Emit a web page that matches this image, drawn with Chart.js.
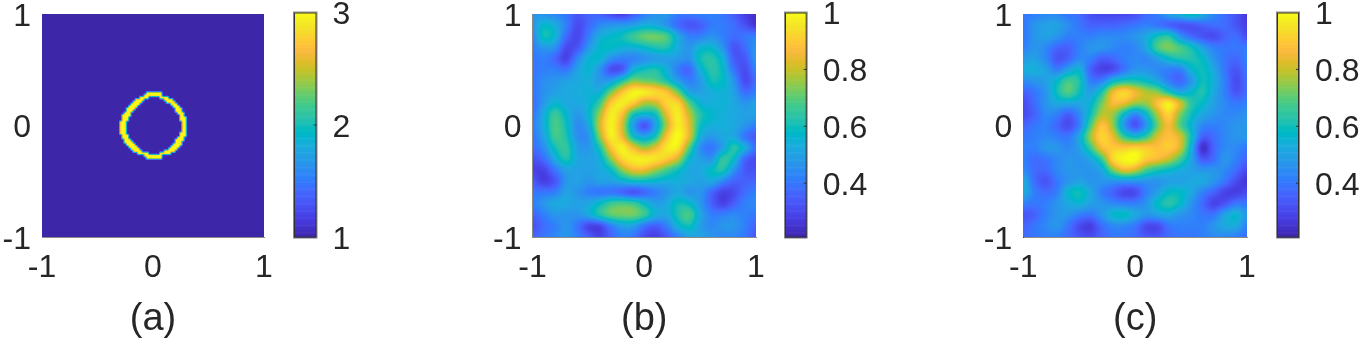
<!DOCTYPE html>
<html><head><meta charset="utf-8">
<script src="https://cdn.jsdelivr.net/npm/chart.js@4"></script>
<style>html,body{margin:0;padding:0;background:#fff;width:1361px;height:342px;overflow:hidden}canvas{position:absolute;top:0}</style>
</head><body>
<canvas id="h1"></canvas><canvas id="c1"></canvas>
<canvas id="h2"></canvas><canvas id="c2"></canvas>
<canvas id="h3"></canvas><canvas id="c3"></canvas>
<script>
const axisTicks = [-1, 0, 1];
const barTicksA = [1, 2, 3];
const barTicksB = [0.4, 0.6, 0.8, 1];
const panelLabels = ['(a)', '(b)', '(c)'];
// ring cells of panel (a): row, left run from..to, right run from..to (offsets from the centre of a 100x100 grid)
const ringRows = [
[-15,-3,3,0,0],[-14,-4,3,0,0],[-13,-6,-3,3,6],[-12,-8,-5,5,8],[-11,-9,-6,6,9],[-10,-10,-7,8,10],[-9,-11,-8,9,11],
[-8,-12,-9,10,12],[-7,-12,-10,10,12],[-6,-13,-11,11,13],[-5,-14,-11,12,13],[-4,-14,-12,12,14],[-3,-14,-12,12,14],
[-2,-15,-13,13,14],[-1,-15,-13,13,14],[0,-15,-13,13,14],[1,-15,-13,13,14],[2,-15,-13,13,14],[3,-15,-13,12,14],
[4,-14,-12,12,14],[5,-14,-12,11,13],[6,-13,-11,10,13],[7,-13,-10,10,12],[8,-12,-9,9,12],[9,-11,-8,8,11],[10,-10,-7,7,10],
[11,-9,-6,5,9],[12,-7,-3,3,7],[13,-4,3,0,0],[14,-3,3,0,0]];
const fieldB = [
[47,46,44,40,33,36,36,31,28,34,42,47,47,41,40,42,42,40,35,28,24],
[47,57,53,42,31,37,44,47,48,50,54,53,47,38,33,35,41,41,38,32,26],
[44,60,55,38,30,41,53,57,60,66,71,72,68,52,42,42,46,42,38,40,42],
[42,48,46,31,33,47,57,58,55,55,58,62,62,53,47,55,56,47,33,38,47],
[40,42,37,29,43,55,56,46,42,43,46,49,50,48,46,60,63,55,35,34,47],
[40,42,42,40,50,56,47,32,34,54,60,62,54,42,37,54,63,58,40,31,42],
[40,45,47,50,52,54,48,50,62,74,72,70,62,50,42,48,60,58,47,31,38],
[40,46,50,52,53,55,55,72,88,98,97,93,88,72,52,50,54,55,50,38,42],
[38,48,56,52,52,55,66,90,97,90,78,80,92,92,70,56,54,55,52,47,50],
[40,53,66,57,48,56,76,97,88,62,56,60,84,97,80,63,57,54,52,50,50],
[42,53,68,60,45,52,80,98,82,50,33,50,78,97,84,60,54,54,52,47,42],
[40,50,67,62,46,47,74,97,86,60,52,62,88,100,84,55,48,52,52,40,34],
[38,45,60,65,50,48,62,88,98,86,76,84,96,96,70,46,40,50,63,53,38],
[32,38,52,62,52,50,54,74,92,97,97,95,90,80,58,50,47,64,58,37,31],
[29,29,40,50,50,50,52,58,74,84,84,76,68,60,52,52,58,62,47,34,32],
[34,28,33,47,50,47,50,50,54,58,58,56,54,54,52,50,52,44,36,36,36],
[40,40,42,50,47,42,40,40,37,33,37,42,47,52,47,47,37,29,31,38,42],
[42,47,52,52,50,52,58,66,68,66,58,50,52,60,58,48,36,29,35,42,44],
[36,42,47,47,47,52,62,70,72,72,66,54,52,62,68,52,42,42,44,42,40],
[32,38,42,47,40,30,30,42,50,50,40,35,42,55,60,50,44,47,47,42,36],
[36,40,44,47,42,35,29,36,42,40,31,28,34,42,50,50,47,44,44,40,33]];
const fieldC = [
[40,42,44,44,40,38,32,30,30,30,32,38,42,50,55,60,54,44,38,33,26],
[40,47,50,50,45,40,36,36,36,38,40,42,40,36,33,33,36,38,38,33,28],
[40,47,50,47,42,42,42,44,44,44,47,52,60,63,47,38,33,31,36,38,31],
[42,47,44,37,36,42,47,47,44,42,44,52,68,73,68,60,50,42,40,40,40],
[48,50,44,33,36,44,42,35,37,42,44,44,50,58,62,62,58,47,40,37,42],
[53,54,50,42,50,55,36,29,31,40,47,47,44,42,42,55,60,52,40,33,40],
[45,47,50,57,67,62,42,42,56,62,62,58,52,42,37,47,60,54,42,31,38],
[36,40,47,60,69,60,50,62,84,92,85,78,74,62,52,57,62,52,42,33,38],
[31,38,47,52,52,52,56,72,86,84,76,76,88,97,82,64,58,50,44,40,42],
[31,36,44,42,35,44,60,78,76,58,44,58,78,92,74,60,52,47,44,44,47],
[36,40,42,37,31,42,68,88,76,48,33,48,72,86,70,56,44,42,44,47,47],
[40,42,44,42,40,52,76,92,84,66,58,66,82,88,82,60,36,38,44,47,47],
[42,42,47,47,44,50,66,86,90,90,92,90,88,90,82,55,25,36,44,44,40],
[42,38,40,44,47,47,52,66,92,99,100,90,86,80,68,52,34,38,47,42,36],
[44,38,37,44,47,47,47,52,72,84,80,68,62,58,54,50,47,47,44,38,30],
[53,38,33,40,47,50,47,47,47,47,47,47,47,50,50,52,52,47,40,31,26],
[53,42,38,42,56,60,52,42,36,30,31,42,50,58,58,52,42,36,29,28,31],
[42,40,42,47,52,55,50,47,44,42,42,47,58,63,58,47,38,29,33,40,40],
[33,36,42,47,47,42,40,47,56,58,52,47,50,52,47,44,40,40,50,56,47],
[36,40,44,47,40,31,28,38,44,44,40,31,31,40,42,42,42,47,52,52,42],
[38,40,42,42,38,33,31,36,40,40,38,33,33,38,40,40,42,44,44,42,38]];
const parula = [[.2422,.1504,.6603],[.2504,.1650,.7076],[.2578,.1818,.7511],[.2647,.1978,.7952],[.2706,.2147,.8364],[.2751,.2342,.8710],[.2783,.2559,.8991],[.2803,.2782,.9221],[.2813,.3006,.9414],[.2810,.3228,.9579],[.2795,.3447,.9717],[.2760,.3667,.9829],[.2699,.3892,.9906],[.2602,.4123,.9952],[.2440,.4358,.9988],[.2206,.4603,.9973],[.1963,.4847,.9892],[.1834,.5074,.9798],[.1786,.5289,.9682],[.1764,.5499,.9520],[.1687,.5703,.9359],[.1540,.5902,.9218],[.1460,.6091,.9079],[.1380,.6276,.8973],[.1248,.6459,.8883],[.1113,.6635,.8763],[.0952,.6798,.8598],[.0689,.6948,.8394],[.0297,.7082,.8163],[.0036,.7203,.7917],[.0067,.7312,.7660],[.0433,.7411,.7394],[.0964,.7500,.7120],[.1408,.7584,.6842],[.1717,.7670,.6554],[.1938,.7758,.6251],[.2161,.7843,.5923],[.2470,.7918,.5567],[.2906,.7973,.5188],[.3406,.8008,.4789],[.3909,.8029,.4354],[.4456,.8024,.3909],[.5044,.7993,.3480],[.5616,.7942,.3045],[.6174,.7876,.2612],[.6720,.7793,.2227],[.7242,.7698,.1910],[.7738,.7598,.1646],[.8203,.7498,.1535],[.8634,.7406,.1596],[.9035,.7330,.1774],[.9393,.7288,.2100],[.9728,.7298,.2394],[.9956,.7434,.2371],[.9970,.7659,.2199],[.9952,.7893,.2028],[.9892,.8136,.1885],[.9786,.8386,.1766],[.9676,.8639,.1643],[.9610,.8890,.1537],[.9597,.9135,.1423],[.9628,.9373,.1265],[.9691,.9606,.1064],[.9769,.9839,.0805]];

const TICK_FONT = {family:'"Liberation Sans", Arial, sans-serif', size:32};
const LABEL_FONT = {family:'"Liberation Sans", Arial, sans-serif', size:38};
const INK = '#262626';

function colorAt(t){
  t = Math.max(0, Math.min(1, t)) * 63;
  const i = Math.min(62, Math.floor(t)), f = t - i, a = parula[i], b = parula[i+1];
  return [0,1,2].map(k => 255 * (a[k] + (b[k]-a[k]) * f));
}
function cubic(p0,p1,p2,p3,t){
  return p1 + 0.5*t*(p2-p0 + t*(2*p0-5*p1+4*p2-p3 + t*(3*(p1-p2)+p3-p0)));
}
function sample(grid, gx, gy, smooth){
  const N = grid.length, M = grid[0].length;
  const at = (r,c) => grid[Math.max(0,Math.min(N-1,r))][Math.max(0,Math.min(M-1,c))];
  const r = Math.floor(gy), c = Math.floor(gx), fy = gy-r, fx = gx-c;
  if (!smooth) {
    const top = at(r,c)*(1-fx)+at(r,c+1)*fx, bot = at(r+1,c)*(1-fx)+at(r+1,c+1)*fx;
    return top*(1-fy)+bot*fy;
  }
  const rows = [-1,0,1,2].map(d => cubic(at(r+d,c-1),at(r+d,c),at(r+d,c+1),at(r+d,c+2),fx));
  return cubic(rows[0],rows[1],rows[2],rows[3],fy);
}
// Draws the field in the chart area; each pixel is looked up through the chart's own x and y scales.
const heatPlugin = {
  id:'heat',
  beforeDatasetsDraw(chart, args, opts){
    if (!opts.grid) return;
    const {ctx, chartArea:a, scales:{x,y}} = chart;
    const w = Math.round(a.right-a.left), h = Math.round(a.bottom-a.top);
    const off = document.createElement('canvas'); off.width = w; off.height = h;
    const oc = off.getContext('2d'), img = oc.createImageData(w,h);
    const N = opts.grid.length, M = opts.grid[0].length;
    const cellCentred = opts.cellCentred;
    for (let j=0;j<h;j++) for (let i=0;i<w;i++){
      const xv = x.getValueForPixel(a.left+(i+.5)*(a.right-a.left)/w);
      const yv = y.getValueForPixel(a.top+(j+.5)*(a.bottom-a.top)/h);
      const gx = cellCentred ? (xv+1)/2*M-.5 : (xv+1)/2*(M-1);
      const gy = cellCentred ? (1-yv)/2*N-.5 : (1-yv)/2*(N-1);
      const v = sample(opts.grid,gx,gy,opts.smooth);
      const col = colorAt((v-opts.vmin)/(opts.vmax-opts.vmin));
      const o = 4*(j*w+i);
      img.data[o]=col[0];img.data[o+1]=col[1];img.data[o+2]=col[2];img.data[o+3]=255;
    }
    oc.putImageData(img,0,0);
    ctx.drawImage(off,a.left,a.top,a.right-a.left,a.bottom-a.top);
  }
};
const barPlugin = {
  id:'cbar',
  beforeDatasetsDraw(chart, args, opts){
    if (!opts.ticks) return;
    const {ctx, chartArea:a, scales:{y}} = chart;
    const n = 256;
    for (let k=0;k<n;k++){
      const v0 = opts.vmin+(opts.vmax-opts.vmin)*k/n, v1 = opts.vmin+(opts.vmax-opts.vmin)*(k+1)/n;
      const c = colorAt((k+.5)/n);
      ctx.fillStyle = `rgb(${c[0]|0},${c[1]|0},${c[2]|0})`;
      const p0 = y.getPixelForValue(v0), p1 = y.getPixelForValue(v1);
      ctx.fillRect(a.left,p1,a.right-a.left,p0-p1+.6);
    }
    ctx.strokeStyle='#8a8a8a';ctx.lineWidth=1;
    ctx.strokeRect(a.left-.5,a.top-.5,a.right-a.left+1,a.bottom-a.top+1);
    ctx.strokeStyle='#333';
    ctx.strokeRect(a.left+.5,a.top+.5,a.right-a.left-1,a.bottom-a.top-1);
    ctx.fillStyle='#333';
    opts.ticks.forEach(t=>{ if(t>opts.vmin&&t<opts.vmax) ctx.fillRect(a.right-3,y.getPixelForValue(t)-.5,3,1); });
  }
};
Chart.register(heatPlugin, barPlugin);

function fixFit(size, horizontal){
  return s => { s.paddingLeft=s.paddingRight=s.paddingTop=s.paddingBottom=0; if(horizontal) s.height=size; else s.width=size; };
}
function heatChart(id, left, width, areaL, areaR, grid, vmin, vmax, smooth, cellCentred, label, leftBorder){
  const cv = document.getElementById(id);
  cv.width=width; cv.height=342; cv.style.left=left+'px'; cv.style.width=width+'px'; cv.style.height='342px';
  const top=14, bottom=237;
  const pts = [];
  grid.forEach((row,r)=>row.forEach((v,c)=>{ if(!cellCentred||v>1) pts.push({x:-1+2*c/(row.length-1),y:1-2*r/(grid.length-1),v}); }));
  new Chart(cv,{type:'scatter',
    data:{datasets:[{label,data:pts,pointRadius:0,pointHoverRadius:0,showLine:false}]},
    options:{responsive:false,animation:false,events:[],
      layout:{padding:{left:0,top:top,bottom:0,right:left+width-areaR}},
      plugins:{legend:{display:false},tooltip:{enabled:false},title:{display:false},
        heat:{grid,vmin,vmax,smooth,cellCentred},cbar:{}},
      scales:{
        x:{type:'linear',min:-1,max:1,afterBuildTicks:s=>{s.ticks=axisTicks.map(value=>({value}));},afterFit:fixFit(342-bottom,true),
          grid:{display:false,drawTicks:false},border:{display:true,color:'#8a8a8a',width:1},
          ticks:{font:TICK_FONT,color:INK,padding:12,maxRotation:0,autoSkip:false,callback:v=>String(v)},
          title:{display:true,text:label,font:LABEL_FONT,color:INK,padding:{top:0,bottom:0}}},
        y:{type:'linear',min:-1,max:1,afterBuildTicks:s=>{s.ticks=axisTicks.map(value=>({value}));},afterFit:fixFit(areaL-left,false),
          grid:{display:false,drawTicks:false},border:{display:true,color:leftBorder,width:1},
          ticks:{font:TICK_FONT,color:INK,padding:11,labelOffset:3,autoSkip:false,callback:v=>String(v)}}
      }}});
}
function barChart(id, left, width, areaL, areaR, vmin, vmax, ticks, label){
  const cv = document.getElementById(id);
  cv.width=width; cv.height=342; cv.style.left=left+'px'; cv.style.width=width+'px'; cv.style.height='342px';
  new Chart(cv,{type:'scatter',
    data:{datasets:[{label,data:ticks.map(t=>({x:0,y:t})),pointRadius:0,pointHoverRadius:0}]},
    options:{responsive:false,animation:false,events:[],
      layout:{padding:{left:areaL-left,top:12.5,bottom:342-237.5,right:0}},
      plugins:{legend:{display:false},tooltip:{enabled:false},cbar:{ticks,vmin,vmax},heat:{}},
      scales:{
        x:{type:'linear',display:false,min:0,max:1},
        y:{type:'linear',position:'right',min:vmin,max:vmax,afterBuildTicks:s=>{s.ticks=ticks.map(value=>({value}));},afterFit:fixFit(left+width-areaR,false),
          grid:{display:false,drawTicks:false},border:{display:false},
          ticks:{font:TICK_FONT,color:INK,padding:16,labelOffset:3,autoSkip:false,callback:v=>String(v)}}
      }}});
}
const gridA = Array.from({length:100},()=>new Array(100).fill(1));
ringRows.forEach(([r,a,b,c,d])=>{
  for(let k=a;k<=b;k++) gridA[50+r][50+k]=3;
  if(c||d) for(let k=c;k<=d;k++) gridA[50+r][50+k]=3;
});
const toUnit = f => f.map(row=>row.map(v=>v/100));
const LOW = 0.209;
heatChart('h1',0,290,42,264,gridA,1,3,false,true,panelLabels[0],'#8a8a8a');
barChart('c1',290,80,294,316.5,1,3,barTicksA,'colorbar a');
heatChart('h2',490,290,532.5,756,toUnit(fieldB),LOW,1,true,false,panelLabels[1],'#8a8a8a');
barChart('c2',780,90,785,806.7,LOW,1,barTicksB,'colorbar b');
heatChart('h3',981,290,1023.3,1247,toUnit(fieldC),LOW,1,true,false,panelLabels[2],'#444');
barChart('c3',1271,90,1277,1299,LOW,1,barTicksB,'colorbar c');
</script>
</body></html>
